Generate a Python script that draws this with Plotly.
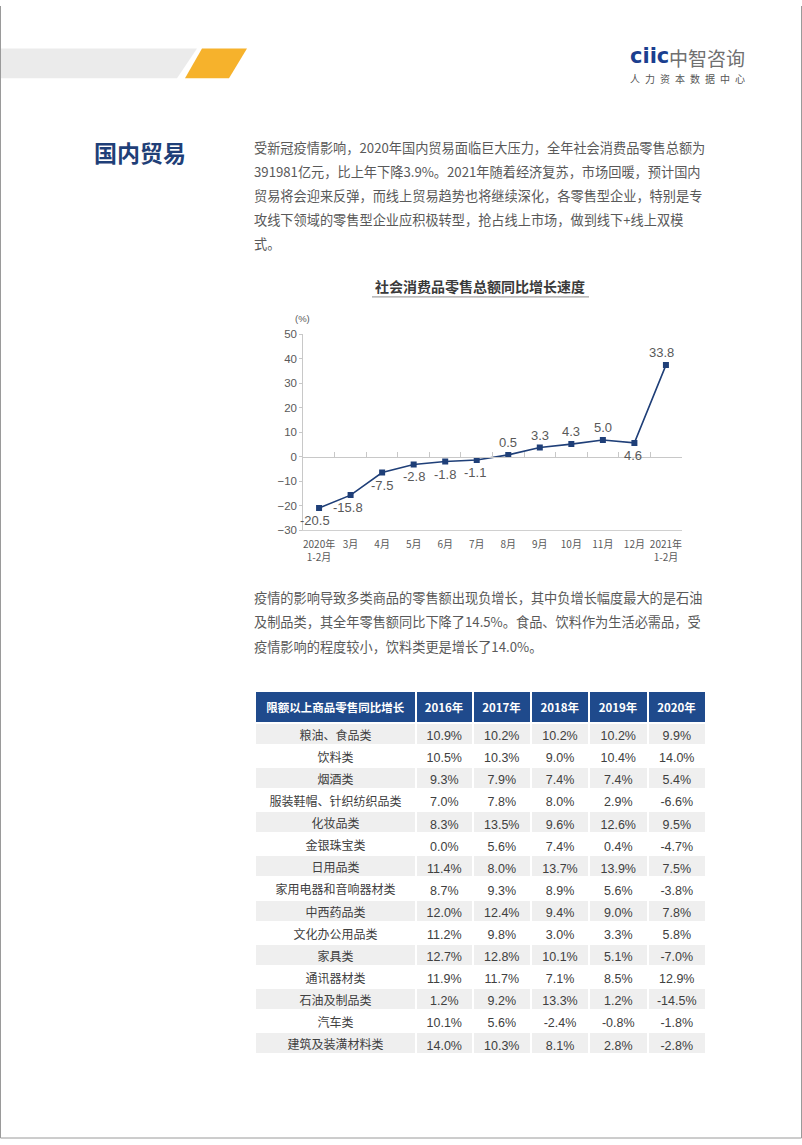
import plotly.graph_objects as go

W, H = 802, 1145
def px(x): return x / W
def py(y): return 1 - y / H

# ---------------- data ----------------
months = ["2020年<br>1-2月", "3月", "4月", "5月", "6月", "7月", "8月", "9月",
          "10月", "11月", "12月", "2021年<br>1-2月"]
# point heights as drawn in the reference chart
plotted_values = [-20.8, -15.6, -6.4, -3.1, -1.9, -1.3, 0.8, 3.8, 5.2, 6.9, 5.7, 37.4]
# value labels printed in the reference chart
label_values = ["-20.5", "-15.8", "-7.5", "-2.8", "-1.8", "-1.1", "0.5", "3.3",
                "4.3", "5.0", "4.6", "33.8"]
y_ticks = [-30, -20, -10, 0, 10, 20, 30, 40, 50]

table_header = ["限额以上商品零售同比增长", "2016年", "2017年", "2018年", "2019年", "2020年"]
categories = ["粮油、食品类", "饮料类", "烟酒类", "服装鞋帽、针织纺织品类", "化妆品类",
              "金银珠宝类", "日用品类", "家用电器和音响器材类", "中西药品类", "文化办公用品类",
              "家具类", "通讯器材类", "石油及制品类", "汽车类", "建筑及装潢材料类"]
y2016 = ["10.9%", "10.5%", "9.3%", "7.0%", "8.3%", "0.0%", "11.4%", "8.7%", "12.0%", "11.2%",
         "12.7%", "11.9%", "1.2%", "10.1%", "14.0%"]
y2017 = ["10.2%", "10.3%", "7.9%", "7.8%", "13.5%", "5.6%", "8.0%", "9.3%", "12.4%", "9.8%",
         "12.8%", "11.7%", "9.2%", "5.6%", "10.3%"]
y2018 = ["10.2%", "9.0%", "7.4%", "8.0%", "9.6%", "7.4%", "13.7%", "8.9%", "9.4%", "3.0%",
         "10.1%", "7.1%", "13.3%", "-2.4%", "8.1%"]
y2019 = ["10.2%", "10.4%", "7.4%", "2.9%", "12.6%", "0.4%", "13.9%", "5.6%", "9.0%", "3.3%",
         "5.1%", "8.5%", "1.2%", "-0.8%", "2.8%"]
y2020 = ["9.9%", "14.0%", "5.4%", "-6.6%", "9.5%", "-4.7%", "7.5%", "-3.8%", "7.8%", "5.8%",
         "-7.0%", "12.9%", "-14.5%", "-1.8%", "-2.8%"]

para1 = ["受新冠疫情影响，2020年国内贸易面临巨大压力，全年社会消费品零售总额为",
         "391981亿元，比上年下降3.9%。2021年随着经济复苏，市场回暖，预计国内",
         "贸易将会迎来反弹，而线上贸易趋势也将继续深化，各零售型企业，特别是专",
         "攻线下领域的零售型企业应积极转型，抢占线上市场，做到线下+线上双模",
         "式。"]
para2 = ["疫情的影响导致多类商品的零售额出现负增长，其中负增长幅度最大的是石油",
         "及制品类，其全年零售额同比下降了14.5%。食品、饮料作为生活必需品，受",
         "疫情影响的程度较小，饮料类更是增长了14.0%。"]

# ---------------- styles ----------------
CJK = "Noto Sans CJK SC"
LAT = "Liberation Sans, Arial"
NAVY = "#1f3f78"
GREY_TXT = "#595959"
label_side = [1, 1, 1, 1, 1, 1, -1, -1, -1, -1, 1, -1]   # 1 = below, -1 = above
label_dx = [-4, -3, 0, 0, 0, -2, 0, 0, 0, 0, -1, -4]

fig = go.Figure()

xs = list(range(len(months)))
fig.add_trace(go.Scatter(
    x=xs, y=plotted_values, mode="lines+markers",
    line=dict(color=NAVY, width=1.6),
    marker=dict(symbol="square", size=6, color=NAVY),
    hoverinfo="skip", showlegend=False))
# invisible trace to host the zero-line axis
fig.add_trace(go.Scatter(x=[xs[0]], y=[0], xaxis="x2", yaxis="y", mode="markers",
                         marker=dict(opacity=0), hoverinfo="skip", showlegend=False))

for i, (v, t) in enumerate(zip(plotted_values, label_values)):
    fig.add_annotation(x=xs[i], y=v, xref="x", yref="y", text=t, showarrow=False,
                       yshift=-12.5 * label_side[i], xshift=label_dx[i],
                       font=dict(family=LAT, size=13, color=GREY_TXT))

cx0, cx1 = 303.3, 681.7
cy_top, cy_bot = 331.7, 530.0
ymin, ymax = -30, 50
zero_paper = py(cy_bot) + (0 - ymin) / (ymax - ymin) * (py(cy_top) - py(cy_bot))

fig.update_layout(
    width=W, height=H, margin=dict(l=0, r=0, t=0, b=0),
    paper_bgcolor="white", plot_bgcolor="white",
    xaxis=dict(domain=[px(cx0), px(cx1)], range=[-0.5, 11.5],
               tickvals=xs, ticktext=months, showgrid=False, zeroline=False,
               showline=True, linecolor="#d0d0d0", linewidth=1, ticks="",
               ticklabelstandoff=5,
               tickfont=dict(family=CJK, size=10, color=GREY_TXT), anchor="y",
               fixedrange=True),
    xaxis2=dict(overlaying="x", anchor="free", position=zero_paper, side="bottom",
                range=[-0.5, 11.5], tickvals=[i + 0.5 for i in xs],
                showticklabels=False, ticks="inside", ticklen=5, tickcolor="#c8c8c8",
                showline=True, linecolor="#c8c8c8", linewidth=1, showgrid=False,
                zeroline=False),
    yaxis=dict(domain=[py(cy_bot), py(cy_top)], range=[ymin, ymax], tickvals=y_ticks,
               showgrid=False, zeroline=False, showline=True, linecolor="#c8c8c8",
               ticks="outside", ticklen=3, tickcolor="#c8c8c8",
               tickfont=dict(family=LAT, size=11.5, color=GREY_TXT)),
)

# ---------------- table ----------------
n = len(categories)
row_colors = ["#efefef" if i % 2 == 0 else "white" for i in range(n)]
fig.add_trace(go.Table(
    domain=dict(x=[px(255), px(706)], y=[py(1060), py(692)]),
    columnwidth=[161, 56.5, 58.5, 58, 58.5, 58.5],
    header=dict(values=[f"<b>{h}</b>" for h in table_header],
                fill_color="#1f4a8c", line=dict(color="white", width=2),
                align="center", height=25,
                font=dict(family=CJK, size=11.5, color="white")),
    cells=dict(values=[categories, y2016, y2017, y2018, y2019, y2020],
               fill_color=[row_colors] * 6, line=dict(color="white", width=2),
               align="center", height=22.1,
               font=dict(family=[CJK] + [LAT] * 5, size=[12] + [12.5] * 5,
                         color="#404040")),
))

# ---------------- page decorations ----------------
shapes = []
def path(pts):
    return "M" + " L".join(f"{px(x)},{py(y)}" for x, y in pts) + " Z"
shapes.append(dict(type="path", xref="paper", yref="paper",
                   path=path([(0, 43), (197, 43), (177, 73), (0, 73)]),
                   fillcolor="#ebebeb", line=dict(width=0)))
shapes.append(dict(type="path", xref="paper", yref="paper",
                   path=path([(202, 43), (247, 43), (229, 73), (185, 73)]),
                   fillcolor="#f6b22c", line=dict(width=0)))
# page border
for (x0, y0, x1, y1) in [(0.5, 0, 0.5, 1144), (0.5, 1144, 801.5, 1144), (801.5, 0, 801.5, 1144)]:
    shapes.append(dict(type="line", xref="paper", yref="paper",
                       x0=px(x0), y0=py(y0), x1=px(x1), y1=py(y1),
                       line=dict(color="#9a9a9a", width=1)))
# chart title underline
shapes.append(dict(type="line", xref="paper", yref="paper", x0=px(372), x1=px(589),
                   y0=py(294), y1=py(294), line=dict(color="#8c8c8c", width=1)))
fig.update_layout(shapes=shapes)

def txt(x, y, s, size, color, xanchor="left", family=CJK, bold=False):
    fig.add_annotation(x=px(x), y=py(y), xref="paper", yref="paper",
                       text=f"<b>{s}</b>" if bold else s, showarrow=False,
                       xanchor=xanchor, yanchor="middle",
                       font=dict(family=family, size=size, color=color))

# logo
txt(628, 51, "ciic", 21, "#1b3f8f", family="DejaVu Sans", bold=True)
txt(667, 52, "中智咨询", 19, "#6f6f6f")
txt(628, 73, "\u2002".join("人力资本数据中心"), 10, "#555555")

# section title
txt(92, 148, "国内贸易", 23, NAVY, bold=True)

for i, line in enumerate(para1):
    txt(252, 143 + i * 24.2, line, 13.2, GREY_TXT)
for i, line in enumerate(para2):
    txt(252, 598 + i * 24.5, line, 13.2, GREY_TXT)

# chart title and unit
txt(480, 283, "社会消费品零售总额同比增长速度", 14, "#3a3a3a", xanchor="center", bold=True)
txt(293, 316, "(%)", 9.5, GREY_TXT, family=LAT)

fig.write_html("out.html")
